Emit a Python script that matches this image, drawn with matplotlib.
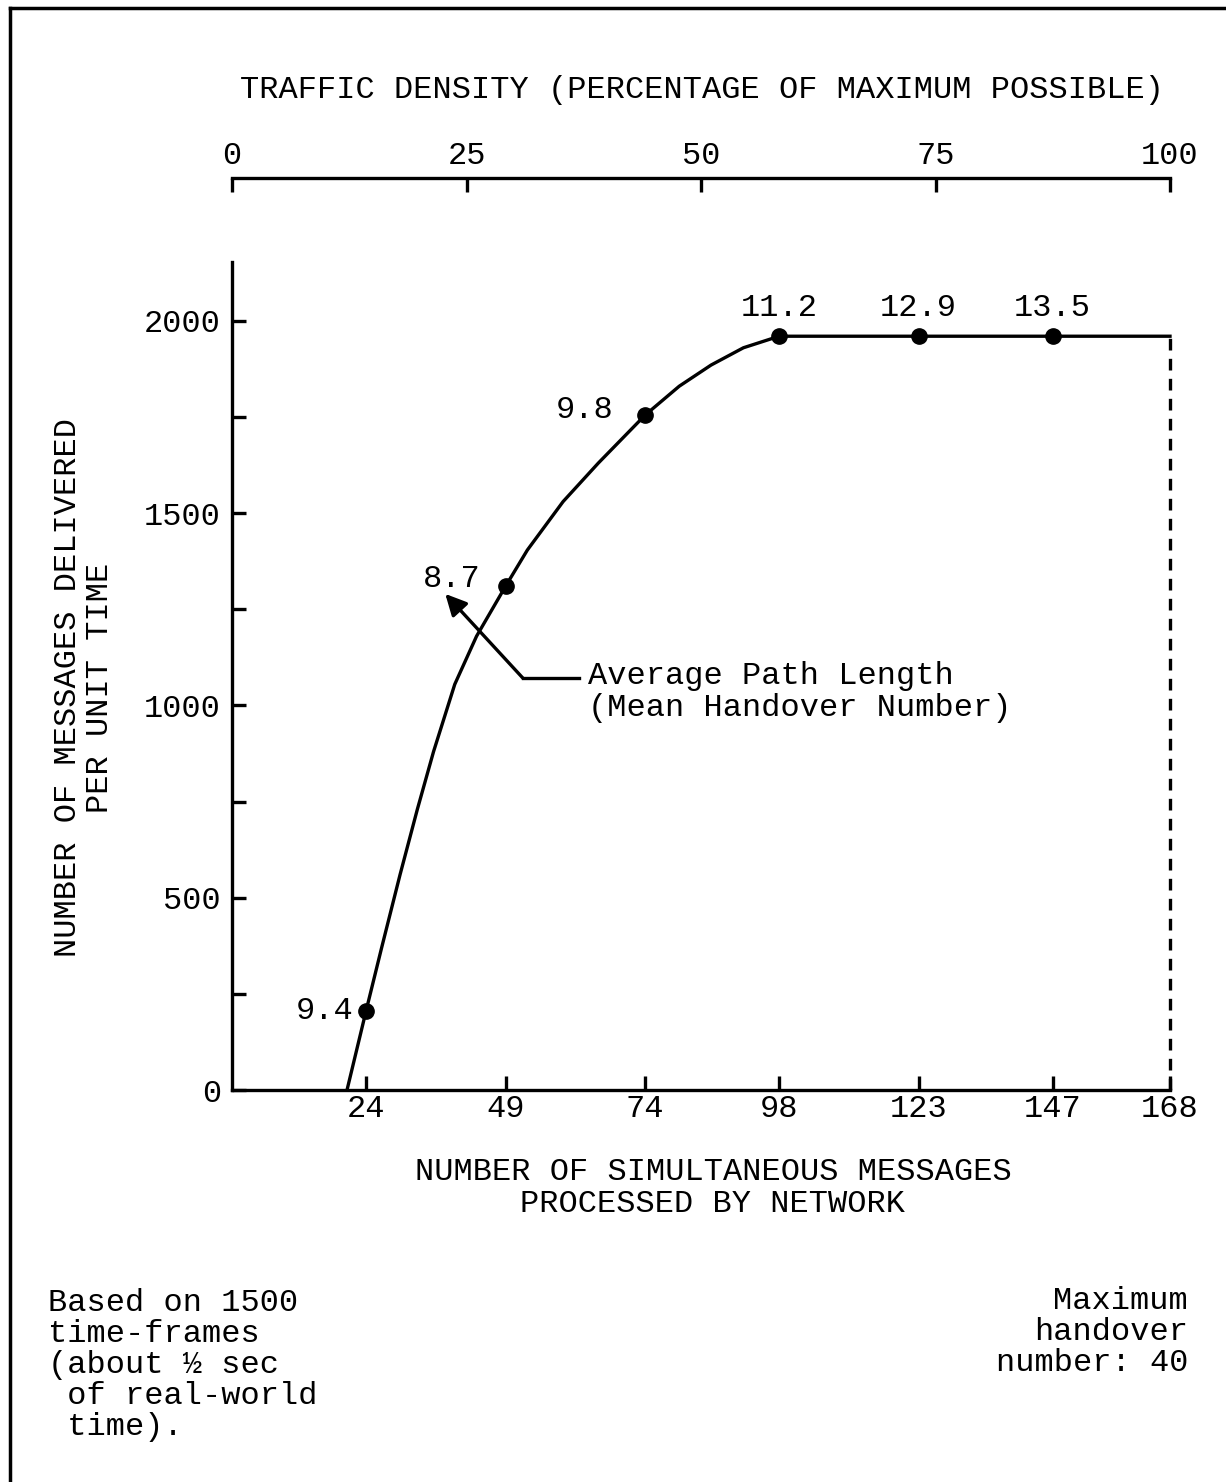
import matplotlib
matplotlib.use("Agg")
import matplotlib.pyplot as plt
from matplotlib.lines import Line2D

plt.rcParams['font.family'] = ['Liberation Mono', 'DejaVu Sans Mono']
plt.rcParams['font.size'] = 23

# measured points: simultaneous messages vs messages delivered per unit time
messages = [24, 49, 74, 98, 123, 147]
delivered = [205, 1310, 1755, 1960, 1960, 1960]
path_length = ["9.4", "8.7", "9.8", "11.2", "12.9", "13.5"]

# the drawn curve
curve_x = [20.6, 24, 26.8, 30.1, 33.2, 36.1, 39.9, 43.8, 49, 52.9, 59.3, 65.6,
           74, 80.1, 85.8, 91.6, 98, 123, 147, 168]
curve_y = [0, 205, 370, 560, 730, 880, 1055, 1180, 1310, 1404, 1530, 1630,
           1755, 1830, 1885, 1930, 1960, 1960, 1960, 1960]

max_messages = 168
x_ticks = [24, 49, 74, 98, 123, 147, 168]
y_ticks = [0, 500, 1000, 1500, 2000]
y_minor = [250, 750, 1250, 1750]
density_ticks = [0, 25, 50, 75, 100]

# label offsets (points) for the path length numbers
lab_off = [(-9, 0), (-18, 5), (-23, 4), (0, 20), (0, 20), (0, 20)]
lab_ha = ["right", "right", "right", "center", "center", "center"]

W, H = 1226, 1482
LW = 2.4


def px(x, y):
    return x / W, 1 - y / H


fig = plt.figure(figsize=(W / 100, H / 100), dpi=100)
ax = fig.add_axes([232 / W, 1 - 1090 / H, (1170 - 232) / W, (1090 - 262) / H])
ax.set_xlim(0, max_messages)
ax.set_ylim(0, 2153)

ax.plot(curve_x, curve_y, color='black', lw=LW, clip_on=False,
        solid_joinstyle='round')
ax.plot([max_messages, max_messages], [0, curve_y[-1]], color='black', lw=LW,
        linestyle=(0, (3.5, 2.5)), clip_on=False)
ax.plot(messages, delivered, 'o', color='black', markersize=11, clip_on=False)

for xv, yv, t, off, ha in zip(messages, delivered, path_length, lab_off, lab_ha):
    ax.annotate(t, (xv, yv), xytext=off, textcoords='offset points',
                ha=ha, va='center')

# callout for the numbers
arrow_tip = (38.2, 1290)
elbow = (52.1, 1071)
tail = (62.2, 1071)
ax.plot([elbow[0], tail[0]], [elbow[1], tail[1]], color='black', lw=LW)
ax.annotate("", xy=arrow_tip, xytext=elbow,
            arrowprops=dict(arrowstyle='-|>', color='black', lw=LW,
                            mutation_scale=32, shrinkA=0, shrinkB=0))
fig.text(*px(588, 692), "Average Path Length\n(Mean Handover Number)",
         ha='left', va='center', linespacing=1.05)

for s in ['top', 'right']:
    ax.spines[s].set_visible(False)
for s in ['left', 'bottom']:
    ax.spines[s].set_linewidth(LW)

ax.set_xticks(x_ticks)
ax.set_yticks(y_ticks)
ax.set_yticks(y_minor, minor=True)
ax.tick_params(axis='both', which='both', direction='in', length=10, width=LW)
ax.tick_params(axis='x', pad=3)
ax.tick_params(axis='y', pad=8)

# traffic density scale on top
loc = (1090 - 178) / (1090 - 262)
top = ax.secondary_xaxis(loc, functions=(lambda m: m / max_messages * 100,
                                         lambda p: p * max_messages / 100))
top.set_xticks(density_ticks)
top.spines['top'].set_linewidth(LW)
top.tick_params(direction='in', length=10, width=LW, pad=5)

fig.text(*px(702, 90), "TRAFFIC DENSITY (PERCENTAGE OF MAXIMUM POSSIBLE)",
         ha='center', va='center')
fig.text(*px(84, 688), "NUMBER OF MESSAGES DELIVERED\nPER UNIT TIME",
         rotation=90, ha='center', va='center', linespacing=1.05)
fig.text(*px(713, 1188), "NUMBER OF SIMULTANEOUS MESSAGES\nPROCESSED BY NETWORK",
         ha='center', va='center', linespacing=1.05)
fig.text(*px(48, 1365), "Based on 1500\ntime-frames\n(about \u00bd sec\n of real-world\n time).",
         ha='left', va='center', linespacing=1.05)
fig.text(*px(1188, 1332), "Maximum\nhandover\nnumber: 40",
         ha='right', va='center', multialignment='right', linespacing=1.05)

# frame around the page
fig.add_artist(Line2D([10 / W, 10 / W], [0, 1 - 8 / H], transform=fig.transFigure,
                      color='black', lw=2.5))
fig.add_artist(Line2D([10 / W, 1], [1 - 8 / H, 1 - 8 / H], transform=fig.transFigure,
                      color='black', lw=2.5))

fig.savefig("out.png", dpi=100)
